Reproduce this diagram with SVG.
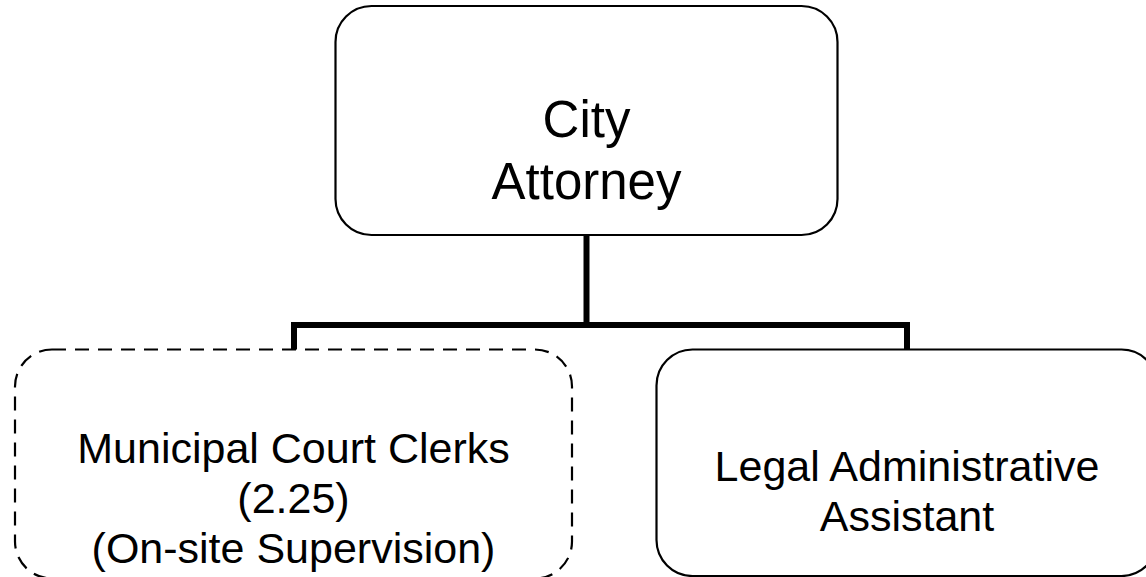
<svg xmlns="http://www.w3.org/2000/svg" width="1146" height="577" viewBox="0 0 1146 577">
<style>
.box{fill:#fff;stroke:#000;stroke-width:2.2}
.dash{stroke-dasharray:14 9}
.t{fill:#000;text-anchor:middle}
.conn{fill:none;stroke:#000;stroke-width:6;stroke-linejoin:miter}
</style>
<rect width="1146" height="577" fill="#fff"/>
<g id="connectors">
<path class="conn" d="M586.5 235 V325"/>
<path class="conn" d="M294 350 V325 H907 V350"/>
</g>
<g id="city-attorney">
<rect class="box" x="335.5" y="6" width="502" height="229" rx="36" ry="36"/>
<text class="t" font-family="Liberation Sans, sans-serif" font-size="51"><tspan x="586.5" y="137">City</tspan><tspan x="586.5" y="199">Attorney</tspan></text>
</g>
<g id="municipal-court-clerks">
<rect class="box dash" x="15" y="349.5" width="557" height="229" rx="37" ry="37"/>
<text class="t" font-family="Liberation Sans, sans-serif" font-size="43"><tspan x="293.5" y="463">Municipal Court Clerks</tspan><tspan x="293.5" y="513">(2.25)</tspan><tspan x="293.5" y="563">(On-site Supervision)</tspan></text>
</g>
<g id="legal-administrative-assistant">
<rect class="box" x="656.5" y="349.5" width="501" height="226.5" rx="36" ry="36"/>
<text class="t" font-family="Liberation Sans, sans-serif" font-size="43"><tspan x="907" y="481">Legal Administrative</tspan><tspan x="907" y="531">Assistant</tspan></text>
</g>
</svg>
